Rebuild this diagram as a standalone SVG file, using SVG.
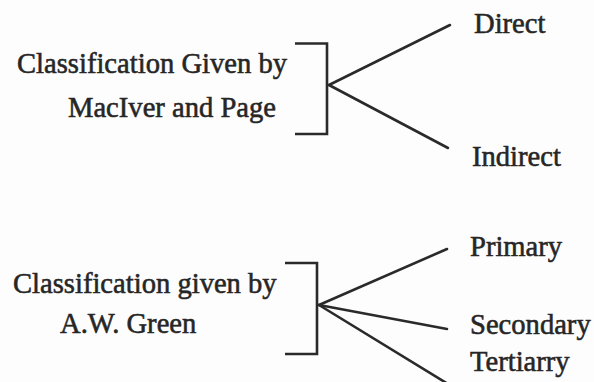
<svg xmlns="http://www.w3.org/2000/svg" width="594" height="382" viewBox="0 0 594 382">
  <style>
    .t { font-family: "Liberation Serif", serif; font-size: 28.6px; fill: #262626; stroke: #262626; stroke-width: 0.55px; }
    .br { fill: none; stroke: #2a2a2a; stroke-width: 2.6; stroke-linecap: butt; stroke-linejoin: miter; }
    .ln { fill: none; stroke: #2a2a2a; stroke-width: 2.6; stroke-linecap: round; }
  </style>
  <rect width="594" height="382" fill="#fdfdfd"/>

  <!-- First classification: MacIver and Page -->
  <g id="maciver-page">
    <text class="t" x="17" y="73">Classification Given by</text>
    <text class="t" x="68" y="117">MacIver and Page</text>
    <polyline class="br" points="295,43.5 327,43.5 327,134 295,134"/>
  </g>
  <g id="direct"><text class="t" x="474" y="33">Direct</text></g>
  <g id="indirect"><text class="t" x="472" y="166">Indirect</text></g>

  <!-- Second classification: A.W. Green -->
  <g id="green">
    <text class="t" x="13" y="293">Classification given by</text>
    <text class="t" x="60" y="333">A.W. Green</text>
    <polyline class="br" points="285,263 317,263 317,354 285,354"/>
  </g>
  <g id="primary"><text class="t" x="470" y="256">Primary</text></g>
  <g id="secondary"><text class="t" x="470" y="334">Secondary</text></g>
  <g id="tertiary"><text class="t" x="470" y="371">Tertiarry</text></g>

  <!-- Branch connectors -->
  <g id="connectors">
    <line class="ln" x1="329" y1="85" x2="450" y2="25"/>
    <line class="ln" x1="329" y1="85" x2="448" y2="148"/>
    <line class="ln" x1="319" y1="305" x2="447" y2="249"/>
    <line class="ln" x1="319" y1="305" x2="447" y2="329"/>
    <line class="ln" x1="319" y1="305" x2="448" y2="384"/>
  </g>
</svg>
